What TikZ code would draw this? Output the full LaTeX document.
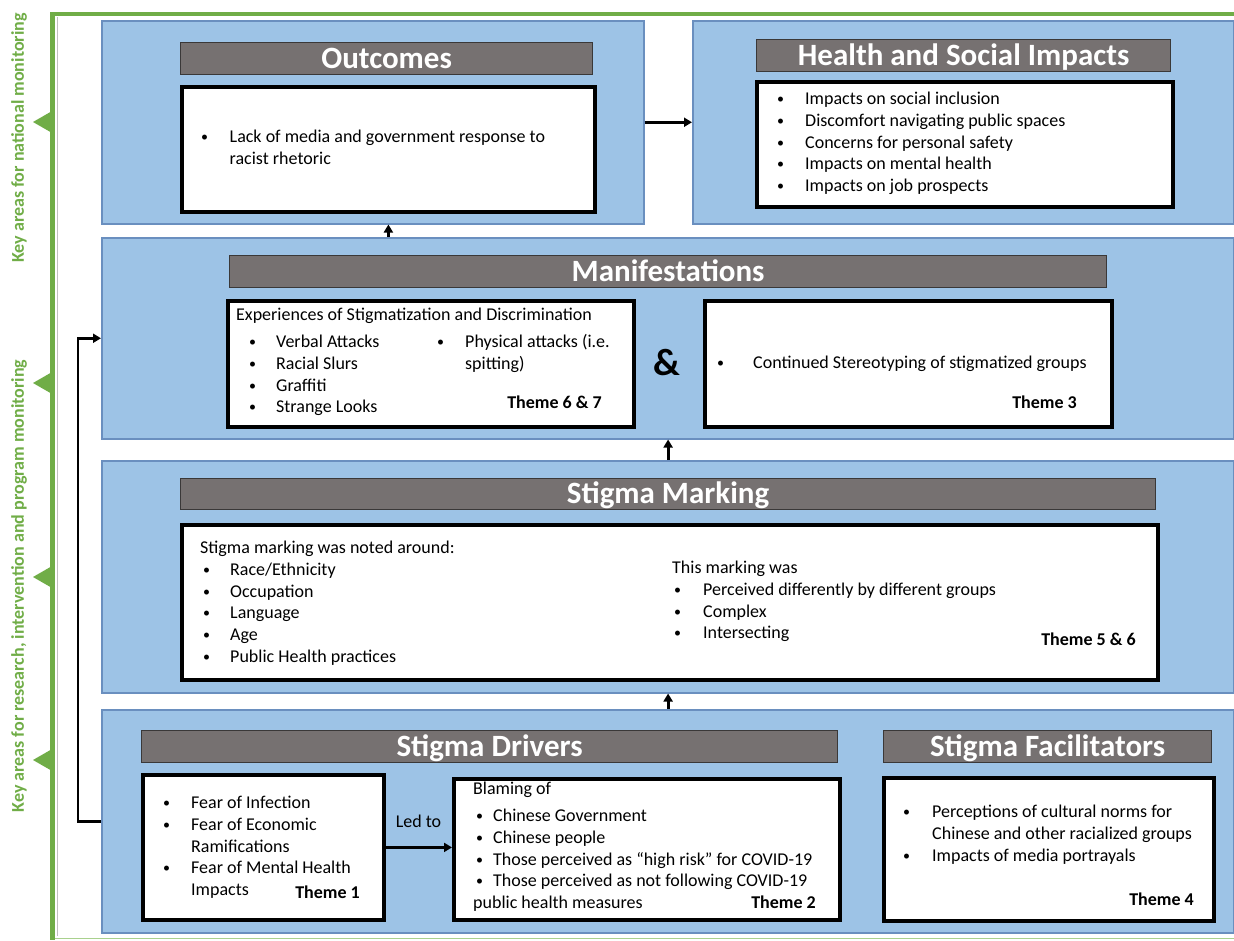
\documentclass[tikz,border=0pt]{standalone}
\usepackage{fontspec}
\setmainfont{Carlito}
\usetikzlibrary{arrows.meta}
\definecolor{panelblue}{HTML}{9DC3E6}
\definecolor{paneledge}{HTML}{6A8FBF}
\definecolor{headgray}{HTML}{767171}
\definecolor{headedge}{HTML}{3A3838}
\definecolor{keygreen}{HTML}{70AD47}
\definecolor{keylight}{HTML}{A9D18E}
\newcommand{\bodysize}{\fontsize{18}{21.8}\selectfont}
% bullet list: first column holds the bullet, second the item text
\newcommand{\blist}[2]{\begin{tabular}[t]{@{}p{#1}@{}l@{}}#2\end{tabular}}
\newcommand{\smallbullet}{\raisebox{1pt}{\fontsize{14}{14}\selectfont\textbullet}}
\newcommand{\bi}{\smallbullet &}
\newcommand{\hd}[1]{\multicolumn{2}{@{}l@{}}{#1}}
\tikzset{
  panel/.style={draw=paneledge, fill=panelblue, line width=1.5pt, anchor=north west, inner sep=0pt},
  header/.style={draw=headedge, fill=headgray, line width=1.2pt, anchor=north west, inner sep=0pt,
    text=white, font=\fontsize{31}{36}\selectfont\bfseries, text height=19.5pt, text depth=0pt},
  itembox/.style={draw=black, fill=white, line width=3.8pt, anchor=north west, inner sep=0pt},
  txt/.style={anchor=base west, inner sep=0pt, font=\bodysize},
  theme/.style={anchor=base east, inner sep=0pt, font=\bodysize\bfseries},
  conn/.style={draw=black, line width=2.8pt, -{Triangle[length=8pt,width=9pt]}},
  keytext/.style={text=keygreen, font=\fontsize{18}{22}\selectfont\bfseries, rotate=90, inner sep=0pt},
}
\begin{document}
\begin{tikzpicture}[x=1pt,y=-1pt]
\useasboundingbox (0,0) rectangle (1234,940);

% green bracket on the left with its markers
\draw[keylight, line width=1.5pt] (52.5,938.5) -- (1234,938.5);
\draw[black!25, line width=0.8pt] (57,17) -- (57,936);
\draw[keygreen, line width=4.5pt] (1234,14) -- (52.5,14) -- (52.5,940);
\foreach \ty in {122,383,577,760}
  \fill[keygreen] (53,\ty-11.5) -- (33,\ty) -- (53,\ty+11.5) -- cycle;
\node[keytext] (natl) at (19,138) {Key areas for national monitoring};
\node[keytext] (rsch) at (19,586) {Key areas for research, intervention and program monitoring};

% blue panels
\node[panel, minimum width=542pt, minimum height=203pt] (outP) at (101,20) {};
\node[panel, minimum width=541pt, minimum height=203pt] (hsP) at (692,20) {};
\node[panel, minimum width=1132pt, minimum height=201pt] (manP) at (101,237) {};
\node[panel, minimum width=1132pt, minimum height=232pt] (mkP) at (101,460) {};
\node[panel, minimum width=1132pt, minimum height=223pt] (drP) at (101,709) {};

% title bars
\node[header, minimum width=412pt, minimum height=32pt] (outH) at (180,42) {Outcomes};
\node[header, minimum width=414pt, minimum height=32pt] (hsH) at (756,39) {Health and Social Impacts};
\node[header, minimum width=877pt, minimum height=32pt] (manH) at (229,255) {Manifestations};
\node[header, minimum width=975pt, minimum height=31pt] (mkH) at (180,478) {Stigma Marking};
\node[header, minimum width=696pt, minimum height=32pt] (drH) at (141,730) {Stigma Drivers};
\node[header, minimum width=328pt, minimum height=32pt] (faH) at (883,730) {Stigma Facilitators};

% white content boxes
\node[itembox, minimum width=413pt, minimum height=125pt] (outB) at (180,85) {};
\node[itembox, minimum width=416pt, minimum height=125pt] (hsB) at (755,80) {};
\node[itembox, minimum width=406pt, minimum height=126pt] (manB1) at (226,299) {};
\node[itembox, minimum width=407pt, minimum height=126pt] (manB2) at (703,299) {};
\node[itembox, minimum width=976pt, minimum height=155pt] (mkB) at (180,523) {};
\node[itembox, minimum width=241pt, minimum height=145pt] (drB1) at (141,773) {};
\node[itembox, minimum width=386pt, minimum height=141pt] (drB2) at (452,777) {};
\node[itembox, minimum width=330pt, minimum height=143pt] (faB) at (882,776) {};

% box texts
\node[txt] (outT) at (201,142.5) {\blist{28.5pt}{\bi Lack of media and government response to\\ & racist rhetoric}};
\node[txt] (hsT) at (777,104.5) {\blist{28pt}{\bi Impacts on social inclusion\\ \bi Discomfort navigating public spaces\\ \bi Concerns for personal safety\\ \bi Impacts on mental health\\ \bi Impacts on job prospects}};

\node[txt] (manHd) at (236,320.5) {Experiences of Stigmatization and Discrimination};
\node[txt] (manL1) at (249,347.5) {\blist{27pt}{\bi Verbal Attacks\\ \bi Racial Slurs\\ \bi Graffiti\\ \bi Strange Looks}};
\node[txt] (manL2) at (437,347.5) {\blist{28pt}{\bi Physical attacks (i.e.\\ & spitting)}};
\node[theme] (th67) at (602,408) {Theme 6 \& 7};
\node[font=\fontsize{38}{44}\selectfont\bfseries, inner sep=0pt] (amp) at (667,363) {\&};
\node[txt] (manL3) at (717,368.5) {\blist{36pt}{\bi Continued Stereotyping of stigmatized groups}};
\node[theme] (th3) at (1077,408.5) {Theme 3};

\node[txt] (mkL1) at (200,553.5) {\blist{30pt}{\hd{Stigma marking was noted around:}\\ \hspace*{3pt}\bi Race/Ethnicity\\ \hspace*{3pt}\bi Occupation\\ \hspace*{3pt}\bi Language\\ \hspace*{3pt}\bi Age\\ \hspace*{3pt}\bi Public Health practices}};
\node[txt] (mkL2) at (672,573.5) {\blist{31pt}{\hd{This marking was}\\ \hspace*{2pt}\bi Perceived differently by different groups\\ \hspace*{2pt}\bi Complex\\ \hspace*{2pt}\bi Intersecting}};
\node[theme] (th56) at (1136,645) {Theme 5 \& 6};

\node[txt] (drL1) at (163,808.5) {\blist{28pt}{\bi Fear of Infection\\ \bi Fear of Economic\\ & Ramifications\\ \bi Fear of Mental Health\\ & Impacts}};
\node[theme] (th1) at (360,898) {Theme 1};
\node[txt, anchor=base] (ledto) at (418.5,827.5) {Led to};
\node[txt] (blame) at (473,794) {Blaming of};
\node[txt] (drL2) at (476,821.5) {\blist{17pt}{\bi Chinese Government\\ \bi Chinese people\\ \bi Those perceived as “high risk” for COVID-19\\ \bi Those perceived as not following COVID-19\\ \multicolumn{2}{@{\hspace*{-3pt}}l@{}}{public health measures}}};
\node[theme] (th2) at (816,908.5) {Theme 2};
\node[txt] (faL) at (903,817.5) {\blist{29pt}{\bi Perceptions of cultural norms for\\ & Chinese and other racialized groups\\ \bi Impacts of media portrayals}};
\node[theme] (th4) at (1194,905.5) {Theme 4};

% connectors
\draw[conn] (outP.east) -- (hsP.west);
\draw[conn] (manP.north -| outB.center) -- (outP.south -| outB.center);
\draw[conn] (mkP.north -| mkH.center) -- (manP.south -| mkH.center);
\draw[conn] (drP.north -| mkH.center) -- (mkP.south -| mkH.center);
\draw[conn] (drB1.east) -- (drB1.east -| drB2.west);
\draw[conn] (drP.west) -- ++(-23,0) |- (manP.west);
\end{tikzpicture}
\end{document}
